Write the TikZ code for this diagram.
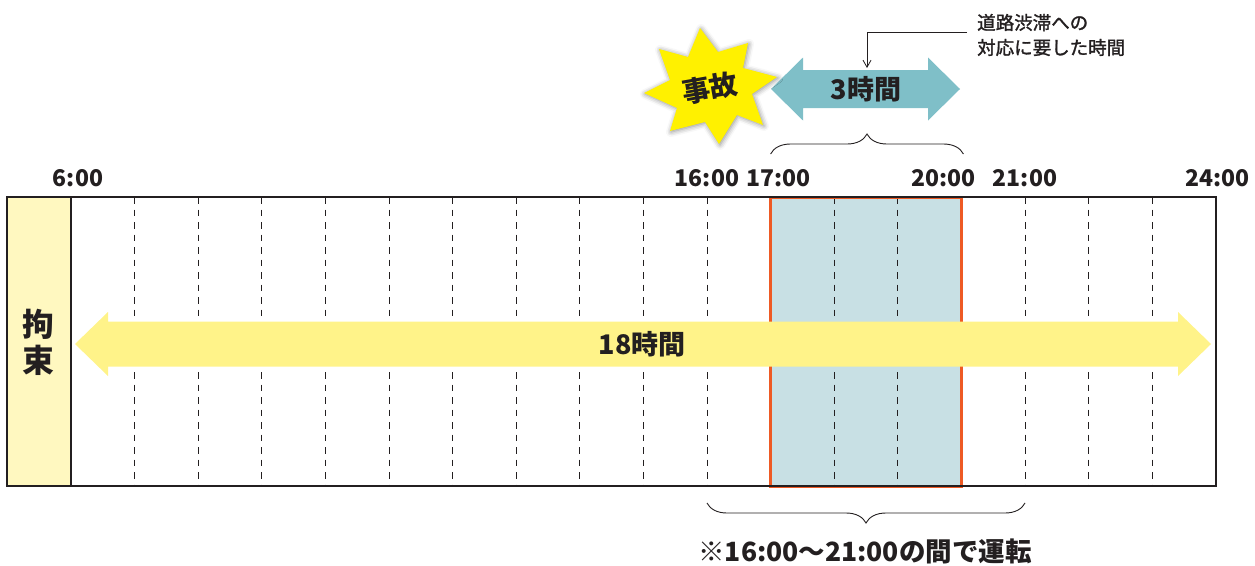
\documentclass[tikz,border=0pt]{standalone}
\usepackage{fontspec}
\setmainfont{Noto Sans CJK JP}
\newfontfamily\lightbold{Noto Sans CJK JP}[FakeBold=1.5]
\usetikzlibrary{positioning,decorations.pathreplacing,shadows.blur,arrows.meta}

\definecolor{ink}{HTML}{231F20}
\definecolor{bindyellow}{HTML}{FFF8C0}
\definecolor{spanyellow}{HTML}{FFF389}
\definecolor{jamblue}{HTML}{C8E0E4}
\definecolor{jamteal}{HTML}{7FBFC8}
\definecolor{jamred}{HTML}{EE5A24}
\definecolor{crashyellow}{HTML}{FFF100}

\begin{document}
\begin{tikzpicture}[x=1pt,y=-1pt,
  hourline/.style={ink,line width=0.9pt,dash pattern=on 6.5pt off 6pt},
  timelabel/.style={text=ink,inner sep=0pt,font=\fontsize{23}{23}\selectfont\bfseries},
  bigtext/.style={text=ink,inner sep=0pt,font=\fontsize{27}{27}\selectfont\bfseries},
  brace/.style={ink,line width=0.9pt,decorate,decoration={brace,amplitude=20pt}},
  pointer/.style={ink,line width=0.8pt,-{Straight Barb[length=7pt,width=8pt]}}]
\useasboundingbox (0,0) rectangle (1255,565);

% hour grid
\foreach \h in {0,...,18}{
  \coordinate (h\h) at (71+63.6*\h,197);
  \coordinate (b\h) at (71+63.6*\h,486);
}
\fill[bindyellow] (7,197) rectangle (b0);
\fill[jamblue] (h11) rectangle (b14);
\foreach \h in {1,...,17}
  \draw[hourline] (h\h) -- (b\h);
\draw[jamred,line width=3pt] (h11) rectangle (b14);
\draw[ink,line width=1.5pt] (7,197) rectangle (b18);
\draw[ink,line width=1.2pt] (h0) -- (b0);

% times
\node[timelabel,above=10pt of h0,xshift=7pt] (t6) {6:00};
\node[timelabel,above=10pt of h10] (t16) {16:00};
\node[timelabel,above=10pt of h11,xshift=8pt] (t17) {17:00};
\node[timelabel,above=10pt of h14,xshift=-18pt] (t20) {20:00};
\node[timelabel,above=10pt of h15] (t21) {21:00};
\node[timelabel,above=10pt of h18,xshift=2pt] (t24) {24:00};

% 18h span
\fill[spanyellow] (75,344) -- (108,312) -- (108,321.5) -- (1178,321.5) -- (1178,312)
  -- (1211,344) -- (1178,376) -- (1178,366.5) -- (108,366.5) -- (108,376) -- cycle;
\node[bigtext] (total) at (642,344) {18時間};
\node[text=ink,align=center,inner sep=0pt,font=\fontsize{32}{36}\selectfont\bfseries] (bind) at (39,342) {拘\\束};

% 3h span
\fill[jamteal] (771,89) -- (803,57.5) -- (803,70) -- (928,70) -- (928,57.5)
  -- (960,89) -- (928,120.5) -- (928,108) -- (803,108) -- (803,120.5) -- cycle;
\node[bigtext] (jam) at (866,89) {3時間};
\draw[brace] ([yshift=43pt]h11) -- ([xshift=2pt,yshift=43pt]h14);

% crash
\fill[crashyellow,blur shadow={shadow xshift=1pt,shadow yshift=-1pt,shadow opacity=45,shadow blur radius=5pt}]
  (700,28) -- (718,52) -- (748,43) -- (743,68) -- (777,77) -- (752,94) -- (763,125)
  -- (737,115) -- (719,144) -- (705,122) -- (670,131) -- (677,108) -- (644,93)
  -- (670,80) -- (659,49) -- (688,57) -- cycle;
\node[text=ink,rotate=10,inner sep=0pt,font=\fontsize{28}{28}\selectfont\bfseries] (crash) at (710,88) {事故};

% note
\node[text=ink,anchor=west,align=left,inner sep=0pt,font=\fontsize{18.5}{25}\lightbold] (callout) at (977,35) {道路渋滞への\\対応に要した時間};
\coordinate (jamtop) at (867,68);
\draw[pointer] ([xshift=-10pt,yshift=2.5pt]callout.west) -| (jamtop);

\draw[brace] ([yshift=-17pt]b15) -- ([yshift=-17pt]b10);
\node[text=ink,inner sep=0pt,font=\fontsize{26.5}{26.5}\selectfont\bfseries] (drive) at (865,551) {※16:00〜21:00の間で運転};
\end{tikzpicture}
\end{document}
